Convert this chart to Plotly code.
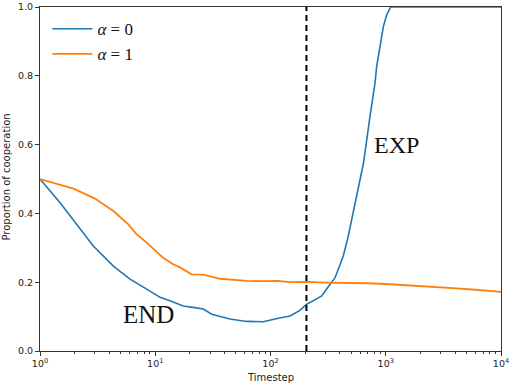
import plotly.graph_objects as go

# alpha = 0 (blue)
t_a0 = [1, 1.5, 2, 2.9, 4.33, 6.04, 8.43, 11, 13.4, 17.5, 22, 26.1, 30.9, 44.5, 62, 86.6, 117, 148,
        180, 206, 240, 278, 307, 335, 363, 395, 428, 470, 506, 560, 618, 640, 730, 807, 834,
        922, 953, 1019, 1104, 2000, 5000, 10000]
v_a0 = [0.50, 0.43, 0.376, 0.305, 0.247, 0.209, 0.180, 0.156, 0.146, 0.131, 0.126, 0.122, 0.107, 0.093, 0.086,
        0.085, 0.095, 0.102, 0.118, 0.136, 0.148, 0.160, 0.180, 0.197, 0.213, 0.245, 0.276,
        0.330, 0.383, 0.46, 0.52, 0.545, 0.682, 0.779, 0.827, 0.924, 0.943, 0.977, 1.0, 1.0, 1.0, 1.0]

# alpha = 1 (orange)
t_a1 = [1, 1.95, 3, 4.33, 5.84, 6.9, 8.43, 11.7, 14.3, 16.4, 20.7, 26, 36.5, 50, 62, 85, 113, 150, 206,
        300, 500, 700, 1088, 1600, 2958, 4125, 6000, 8000, 10000]
v_a1 = [0.50, 0.472, 0.443, 0.407, 0.368, 0.339, 0.315, 0.271, 0.252, 0.243, 0.223, 0.222, 0.210, 0.206,
        0.204, 0.203, 0.204, 0.200, 0.201, 0.199, 0.198, 0.197, 0.194, 0.191, 0.186, 0.182, 0.178, 0.175, 0.172]

vline_t = [205, 205]
vline_v = [0, 1]

x_tickvals = [1, 10, 100, 1000, 10000]
x_ticktext = ["10<sup>0</sup>", "10<sup>1</sup>", "10<sup>2</sup>", "10<sup>3</sup>", "10<sup>4</sup>"]
y_tickvals = [0.0, 0.2, 0.4, 0.6, 0.8, 1.0]

minor_vals = [m * 10 ** d for d in range(4) for m in range(2, 10)]

fig = go.Figure()
fig.add_trace(go.Scatter(x=t_a0, y=v_a0, mode="lines", name="<i>α</i> = 0",
                         line=dict(color="#1f77b4", width=1.6)))
fig.add_trace(go.Scatter(x=t_a1, y=v_a1, mode="lines", name="<i>α</i> = 1",
                         line=dict(color="#ff7f0e", width=1.8)))
fig.add_trace(go.Scatter(x=vline_t, y=vline_v, mode="lines", showlegend=False,
                         line=dict(color="black", width=2, dash="6px,4px")))

axis_common = dict(showgrid=False, zeroline=False, showline=True, linecolor="#333333",
                   linewidth=1, mirror=True, ticks="outside", ticklen=4, tickcolor="#333333",
                   automargin=False,
                   tickfont=dict(family="DejaVu Sans", size=9.5, color="#222222"))

fig.update_layout(
    width=512, height=385,
    margin=dict(l=40, r=11, t=7, b=34),
    paper_bgcolor="white", plot_bgcolor="white",
    xaxis=dict(type="log", range=[0, 4], tickvals=x_tickvals, ticktext=x_ticktext,
               minor=dict(tickvals=minor_vals, ticks="outside", ticklen=2, tickcolor="#333333"),
               **axis_common),
    yaxis=dict(range=[0, 1], tickvals=y_tickvals, tickformat=".1f", **axis_common),
    legend=dict(x=0.016, y=0.988, xanchor="left", yanchor="top", bgcolor="rgba(0,0,0,0)",
                font=dict(family="Liberation Serif", size=17, color="#111111"),
                itemwidth=40),
    annotations=[
        dict(text="Timestep", xref="paper", yref="paper", x=0.501, y=-0.078,
             xanchor="center", yanchor="middle",
             showarrow=False, font=dict(family="DejaVu Sans", size=10, color="#222222")),
        dict(text="Proportion of cooperation", xref="paper", yref="paper", x=-0.0716, y=0.507,
             textangle=-90, xanchor="center", yanchor="middle", showarrow=False,
             font=dict(family="DejaVu Sans", size=10, color="#222222")),
        dict(text="END", xref="paper", yref="paper", x=0.236, y=0.105, showarrow=False,
             xanchor="center", yanchor="middle",
             font=dict(family="Liberation Serif", size=25, color="#111111")),
        dict(text="EXP", xref="paper", yref="paper", x=0.774, y=0.599, showarrow=False,
             xanchor="center", yanchor="middle",
             font=dict(family="Liberation Serif", size=24, color="#111111")),
    ],
)

fig.write_html("out.html", config={"displayModeBar": False},
               post_script="document.body.style.margin='0';document.body.style.padding='0';")
